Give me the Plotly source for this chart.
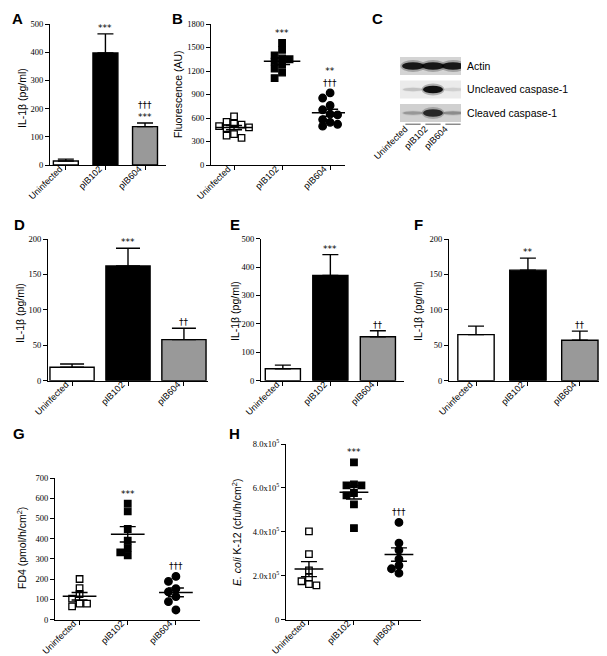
import numpy as np
import plotly.graph_objects as go

W, H = 607, 656
cats = ["Uninfected", "pIB102", "pIB604"]

# ---- data ----
a_mean = [14, 397, 136]
a_sem = [7, 68, 13]
a_marks = ["", "***", "†††<br>***"]

b_uninf = [620, 550, 530, 515, 495, 480, 470, 395, 375, 345]
b_102 = [1560, 1470, 1400, 1360, 1350, 1320, 1280, 1230, 1180, 1110]
b_604 = [920, 855, 760, 705, 650, 640, 580, 545, 520, 495]
b_marks = ["", "***", "**<br>†††"]

blot_rows = ["Actin", "Uncleaved caspase-1", "Cleaved caspase-1"]
blot_intensity = [[0.95, 0.95, 0.95], [0.15, 1.0, 0.1], [0.25, 0.85, 0.3]]

d_mean = [19, 162, 58]
d_sem = [4.5, 25, 16]
d_marks = ["", "***", "††"]

e_mean = [42, 371, 155]
e_sem = [13, 73, 21]
e_marks = ["", "***", "††"]

f_mean = [65, 156, 57]
f_sem = [12, 17, 13]
f_marks = ["", "**", "††"]

g_uninf = [201, 156, 127, 104, 79, 66, 79]
g_102 = [573, 535, 448, 390, 354, 318, 333]
g_604 = [214, 189, 153, 137, 114, 89, 48]
g_marks = ["", "***", "†††"]

h_uninf = [4.02e5, 2.99e5, 2.25e5, 1.93e5, 1.75e5, 1.56e5, 1.62e5]
h_102 = [7.16e5, 6.12e5, 6.16e5, 6.12e5, 5.66e5, 5.77e5, 5.25e5, 4.17e5]
h_604 = [4.43e5, 3.49e5, 3.17e5, 2.76e5, 2.47e5, 2.32e5, 2.12e5]
h_marks = ["", "***", "†††"]
h_ticks = [0, 2e5, 4e5, 6e5, 8e5]
h_ticktext = ["0", "2.0x10<sup>5</sup>", "4.0x10<sup>5</sup>", "6.0x10<sup>5</sup>", "8.0x10<sup>5</sup>"]

bar_fills = ["white", "black", "#999999"]
sans = "Liberation Sans, Arial, sans-serif"
serif = "Liberation Serif, Times New Roman, serif"
markfont = "DejaVu Sans, sans-serif"

fig = go.Figure()
layout = dict(width=W, height=H, margin=dict(l=0, r=0, t=0, b=0, autoexpand=False),
              paper_bgcolor="white", plot_bgcolor="white", showlegend=False)
annots = []
shapes = []

geo = {}


def add_axes(n, x0, x1, ytop, ybot, xrange, ymax, dtick, ticktext=None, tickvals=None):
    sx = "" if n == 1 else str(n)
    geo[n] = dict(x0=x0, x1=x1, ytop=ytop, ybot=ybot, xr=xrange, ymax=ymax)
    layout["xaxis" + sx] = dict(
        domain=[x0 / W, x1 / W], range=xrange, anchor="y" + sx, automargin=False,
        tickmode="array", tickvals=[0, 1, 2], ticktext=cats, tickangle=-45,
        ticklabelshift=-6, ticklabelstandoff=-10,
        ticks="outside", ticklen=4, tickwidth=1.2, tickcolor="black",
        showline=True, linecolor="black", linewidth=1.3, showgrid=False, zeroline=False,
        tickfont=dict(family=sans, size=9, color="black"), fixedrange=True)
    ya = dict(
        domain=[1 - ybot / H, 1 - ytop / H], range=[0, ymax], anchor="x" + sx, automargin=False,
        ticks="outside", ticklen=4, tickwidth=1.2, tickcolor="black",
        showline=True, linecolor="black", linewidth=1.3, showgrid=False, zeroline=False,
        tickfont=dict(family=serif, size=8.5, color="black"), fixedrange=True)
    if tickvals is not None:
        ya.update(tickmode="array", tickvals=tickvals, ticktext=ticktext)
    else:
        ya.update(tickmode="linear", tick0=0, dtick=dtick)
    layout["yaxis" + sx] = ya
    return "x" + sx, "y" + sx


def bar_panel(n, means, sems, marks, cap, width):
    xr, yr = "x" + ("" if n == 1 else str(n)), "y" + ("" if n == 1 else str(n))
    fig.add_trace(go.Bar(x=[0, 1, 2], y=means, width=width, xaxis=xr, yaxis=yr,
                         marker=dict(color=bar_fills, line=dict(color="black", width=1.4)),
                         error_y=dict(type="data", array=sems, arrayminus=[0, 0, 0], symmetric=False,
                                      color="black", thickness=1.4, width=cap),
                         hoverinfo="skip"))
    for i, m in enumerate(marks):
        if m:
            annots.append(dict(x=i, y=means[i] + sems[i], xref=xr, yref=yr, text=m, showarrow=False,
                               yanchor="bottom", yshift=-1,
                               font=dict(family=markfont, size=9, color="black")))


def swarm(values, ypu, size):
    vals = np.asarray(values, float)
    order = np.argsort(-vals)
    placed = []
    offs = np.zeros(len(vals))
    s = size * 1.15
    cands = [0, -s, s, -2 * s, 2 * s, -3 * s, 3 * s]
    for i in order:
        yp = vals[i] * ypu
        for c in cands:
            if all(not (abs(c - px) < size and abs(yp - py) < size * 0.9) for px, py in placed):
                offs[i] = c
                placed.append((c, yp))
                break
    return offs


def scatter_panel(n, groups, marks, size=6.5, half=0.35, cap=8):
    sx = "" if n == 1 else str(n)
    xr, yr = "x" + sx, "y" + sx
    g = geo[n]
    ypu = (g["ybot"] - g["ytop"]) / g["ymax"]
    xpu = (g["x1"] - g["x0"]) / (g["xr"][1] - g["xr"][0])
    symbols = ["square-open", "square", "circle"]
    for i, vals in enumerate(groups):
        offs = swarm(vals, ypu, size) / xpu
        fig.add_trace(go.Scatter(x=i + offs, y=vals, mode="markers", xaxis=xr, yaxis=yr,
                                 marker=dict(symbol=symbols[i], size=size if i != 2 else size + 1,
                                             color="black", line=dict(color="black", width=1.3)),
                                 cliponaxis=False, hoverinfo="skip"))
        v = np.asarray(vals, float)
        mean = v.mean()
        sem = v.std(ddof=1) / np.sqrt(len(v))
        fig.add_trace(go.Scatter(x=[i - half, i + half], y=[mean, mean], mode="lines",
                                 xaxis=xr, yaxis=yr, line=dict(color="black", width=1.5),
                                 hoverinfo="skip"))
        fig.add_trace(go.Scatter(x=[i], y=[mean], mode="markers", xaxis=xr, yaxis=yr,
                                 marker=dict(size=1, color="rgba(0,0,0,0)"),
                                 error_y=dict(type="data", array=[sem], color="black",
                                              thickness=1.4, width=cap),
                                 hoverinfo="skip"))
        if marks[i]:
            annots.append(dict(x=i, y=max(vals), xref=xr, yref=yr, text=marks[i], showarrow=False,
                               yanchor="bottom", yshift=3,
                               font=dict(family=markfont, size=9, color="black")))


# ---- Panel A ----
add_axes(1, 42, 158, 16, 157, [-0.4, 2.53], 500, 100)
bar_panel(1, a_mean, a_sem, a_marks, cap=8, width=0.63)

# ---- Panel B ----
add_axes(2, 203, 337, 16, 157, [-0.48, 2.31], 1800, 300)
scatter_panel(2, [b_uninf, b_102, b_604], b_marks, size=6.5, half=0.38)

# ---- Panel D ----
add_axes(4, 40, 200, 231, 372.7, [-0.43, 2.43], 200, 50)
bar_panel(4, d_mean, d_sem, d_marks, cap=12, width=0.79)

# ---- Panel E ----
add_axes(5, 253, 396, 230.7, 372.7, [-0.46, 2.55], 500, 100)
bar_panel(5, e_mean, e_sem, e_marks, cap=8, width=0.74)

# ---- Panel F ----
add_axes(6, 441, 603, 231, 372.7, [-0.52, 2.6], 200, 50)
bar_panel(6, f_mean, f_sem, f_marks, cap=8, width=0.70)

# ---- Panel G ----
add_axes(7, 47, 192, 470, 611.7, [-0.51, 2.5], 700, 100)
scatter_panel(7, [g_uninf, g_102, g_604], g_marks, size=6.5)

# ---- Panel H ----
add_axes(8, 278, 413, 436, 611.7, [-0.51, 2.49], 8e5, None, ticktext=h_ticktext, tickvals=h_ticks)
scatter_panel(8, [h_uninf, h_102, h_604], h_marks, size=6.5, half=0.32)

# ---- Panel C (western blot) ----
cx0, cx1, cyt, cyb = 392, 453, 49, 117
layout["xaxis3"] = dict(domain=[cx0 / W, cx1 / W], range=[-0.65, 2.4], anchor="y3", automargin=False,
                        tickmode="array", tickvals=[0, 1, 2], ticktext=cats, tickangle=-45,
                        ticklabelshift=-8, ticklabelstandoff=-4,
                        ticks="", showline=False, showgrid=False, zeroline=False,
                        tickfont=dict(family=sans, size=9, color="black"), fixedrange=True)
layout["yaxis3"] = dict(domain=[1 - cyb / H, 1 - cyt / H], range=[2.51, -0.383], anchor="x3", automargin=False,
                        side="right", tickmode="array", tickvals=[0, 1, 2], ticktext=blot_rows,
                        ticks="outside", ticklen=3, tickcolor="rgba(0,0,0,0)",
                        showline=False, showgrid=False, zeroline=False,
                        tickfont=dict(family=sans, size=10.5, color="black"), fixedrange=True)
box_fill = ["#d4d4d4", "#ebebeb", "#d0d0d0"]
for r in range(3):
    shapes.append(dict(type="rect", xref="x3", yref="y3", x0=-0.65, x1=2.4, y0=r - 0.383, y1=r + 0.383,
                       fillcolor=box_fill[r], line=dict(width=0), layer="below"))
    for l in range(3):
        it = blot_intensity[r][l]
        hh = 0.16 if it > 0.5 else 0.07
        ww = 0.55 if r == 0 else 0.5
        shapes.append(dict(type="circle", xref="x3", yref="y3", x0=l - ww * 1.15, x1=l + ww * 1.15,
                           y0=r - hh * 1.6, y1=r + hh * 1.6,
                           fillcolor="rgba(0,0,0,%.3f)" % (it * 0.25), line=dict(width=0)))
        shapes.append(dict(type="circle", xref="x3", yref="y3", x0=l - ww, x1=l + ww,
                           y0=r - hh, y1=r + hh,
                           fillcolor="rgba(0,0,0,%.3f)" % (it * 0.9), line=dict(width=0)))
for l in range(3):
    shapes.append(dict(type="line", xref="x3", yref="y3", x0=l - 0.38, x1=l + 0.38, y0=2.48, y1=2.48,
                       line=dict(color="#8a8a8a", width=1.5)))

# ---- titles and panel letters ----
ytitles = [
    ("IL-1β (pg/ml)", 14, 90),
    ("Fluorescence (AU)", 170, 86),
    ("IL-1β (pg/ml)", 12, 305),
    ("IL-1β (pg/ml)", 227, 303),
    ("IL-1β (pg/ml)", 410, 303),
    ("FD4 (pmol/h/cm<sup>2</sup>)", 13, 540),
    ("<i>E. coli</i> K-12 (cfu/h/cm<sup>2</sup>)", 228, 525),
]
for t, x, y in ytitles:
    annots.append(dict(text=t, x=x / W, y=1 - y / H, xref="paper", yref="paper", showarrow=False,
                       textangle=-90, xanchor="center", yanchor="middle",
                       font=dict(family=sans, size=10.5, color="black")))
letters = [("A", 9, 10), ("B", 169, 10), ("C", 369, 10), ("D", 11, 216), ("E", 227, 216),
           ("F", 410, 216), ("G", 11, 425), ("H", 226, 425)]
for t, x, y in letters:
    annots.append(dict(text="<b>%s</b>" % t, x=x / W, y=1 - y / H, xref="paper", yref="paper",
                       showarrow=False, xanchor="center", yanchor="middle",
                       font=dict(family=sans, size=15, color="black")))

layout["annotations"] = annots
layout["shapes"] = shapes
fig.update_layout(**layout)
fig.write_html("out.html", config={"displayModeBar": False})
